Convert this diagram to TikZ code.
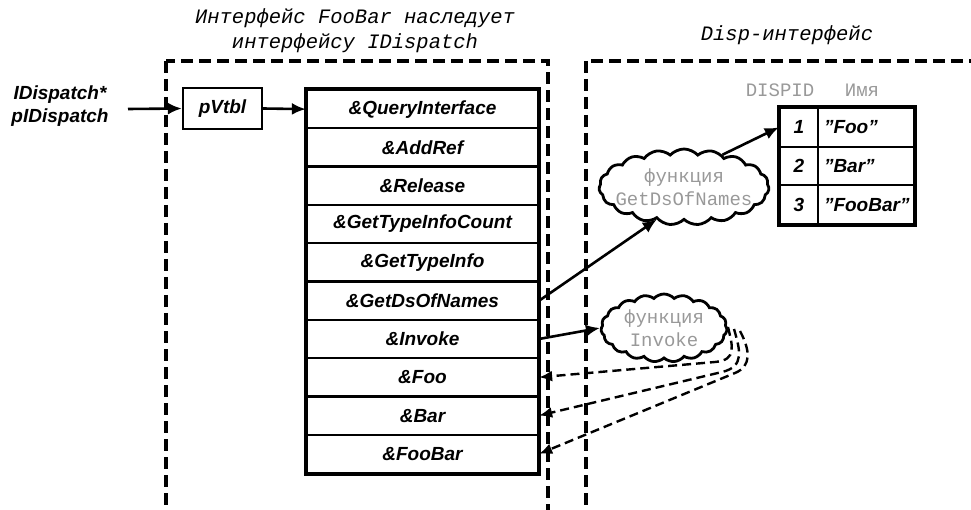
\documentclass[tikz,border=0pt]{standalone}
\usepackage{fontspec}
\setmainfont{Liberation Sans}
\newfontfamily\lmono{Liberation Mono}
\usetikzlibrary{arrows.meta,shapes.symbols}
\newcommand\sq{\symbol{34}}
\begin{document}
\begin{tikzpicture}[x=1pt,y=-1pt,
  lblfont/.style={font=\fontsize{19}{23}\selectfont\bfseries\itshape},
  rowbox/.style={draw,line width=2.3pt,minimum width=231pt,minimum height=38.3pt,inner sep=0pt,lblfont},
  cellid/.style={draw,line width=2.3pt,minimum width=38pt,minimum height=38.67pt,inner sep=0pt,lblfont},
  cellname/.style={draw,line width=2.3pt,minimum width=96pt,minimum height=38.67pt,inner xsep=6pt,inner ysep=0pt,text width=84pt,align=left,lblfont},
  dbox/.style={draw,line width=3.2pt,dash pattern=on 12pt off 6pt},
  arr/.style={line width=2.6pt,-{Latex[length=14pt,width=12pt]}},
  darr/.style={line width=2.4pt,dash pattern=on 9pt off 5pt,-{Latex[length=13pt,width=11pt]}},
  graytxt/.style={text=black!40,font=\lmono\fontsize{19}{23}\selectfont},
  cloudnode/.style={cloud,draw,line width=2.8pt,cloud puffs=19,cloud puff arc=95,cloud ignores aspect,inner xsep=-30pt,inner ysep=-10pt,align=center,graytxt},
  titletxt/.style={align=center,font=\lmono\itshape\fontsize{20.5}{25}\selectfont},
  lbl/.style={align=center,lblfont}]
\useasboundingbox (0,0) rectangle (971,510);

% dashed interface boxes
\draw[dbox] (166,61) rectangle (548,511.3);
\draw[dbox] (586,61) rectangle (990,511.3);

% titles
\node[titletxt] (tleft) at (355,31) {Интерфейс FooBar наследует\\интерфейсу IDispatch};
\node[titletxt] (tright) at (787,35) {Disp-интерфейс};

% pointer label and pVtbl
\node[lbl] (ptr) at (60,106) {IDispatch*\\pIDispatch};
\coordinate (ptrend) at (128,109);
\node[draw,line width=2.3pt,minimum width=79pt,minimum height=41pt,inner sep=0pt,lblfont] (pv) at (222.5,108.5) {pVtbl};

% vtable
\foreach \t [count=\i] in {\&QueryInterface,\&AddRef,\&Release,\&GetTypeInfoCount,\&GetTypeInfo,\&GetDsOfNames,\&Invoke,\&Foo,\&Bar,\&FooBar}
  \node[rowbox] (r\i) at (422.5,{109.15+38.3*(\i-1)}) {\t};
\draw[line width=3.3pt] (r1.north west) rectangle (r10.south east);

% DISPID table
\node[graytxt] (hid) at (780,90) {DISPID};
\node[graytxt] (hnm) at (862,90) {Имя};
\foreach \n [count=\i] in {Foo,Bar,FooBar}{
  \node[cellid] (id\i) at (799,{127.33+38.67*(\i-1)}) {\i};
  \node[cellname] (nm\i) at (866,{127.33+38.67*(\i-1)}) {\sq\n\sq};
}
\draw[line width=3.3pt] (id1.north west) rectangle (nm3.south east);

% clouds
\node[cloudnode,minimum width=170pt,minimum height=76pt] (gdn) at (684,187) {функция\\GetDsOfNames};
\node[cloudnode,minimum width=126pt,minimum height=68pt] (inv) at (664,328) {функция\\Invoke};

% solid connectors
\draw[arr] (ptrend) -- (pv.west);
\draw[arr] (pv.east) -- (r1.west);
\draw[arr] (r6.east) -- (gdn.230);
\draw[arr] (gdn.40) -- (id1.west);
\draw[arr] (r7.east) -- (inv.west);

% dashed returns
\coordinate (s1) at (728,327);
\coordinate (s2) at (734,329);
\coordinate (s3) at (740,331);
\coordinate (k1) at (715,362);
\coordinate (k2) at (722,372);
\coordinate (k3) at (735,373);
\draw[darr] (s1) .. controls (732,345) and (738,360) .. (k1) -- (r8.east);
\draw[darr] (s2) .. controls (740,350) and (745,366.6) .. (k2) -- (r9.east);
\draw[darr] (s3) .. controls (750,350) and (752,366) .. (k3) -- (r10.east);
\end{tikzpicture}
\end{document}
